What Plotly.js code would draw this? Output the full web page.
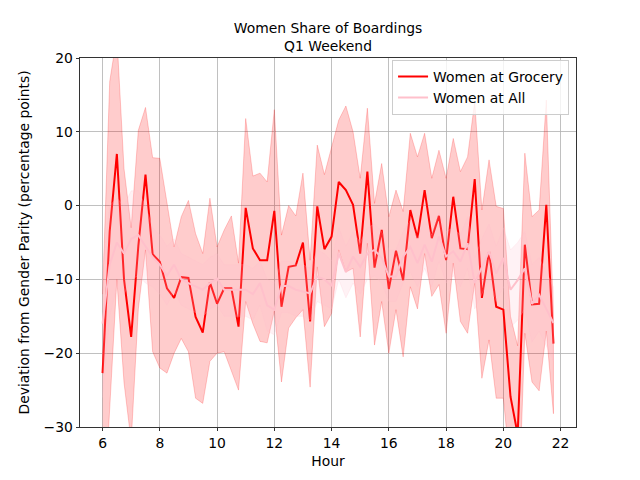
<!DOCTYPE html>
<html>
<head>
<meta charset="utf-8">
<script src="https://cdn.plot.ly/plotly-3.0.1.min.js"></script>
<style>
  body { margin: 0; background: white; }
  #chart { width: 640px; height: 480px; }
</style>
</head>
<body>
<div id="chart"></div>
<script>
// quarter-hour bins, 6:00 to 21:45
const hours = [
  6, 6.25, 6.5, 6.75, 7, 7.25, 7.5, 7.75, 8, 8.25, 8.5, 8.75,
  9, 9.25, 9.5, 9.75, 10, 10.25, 10.5, 10.75, 11, 11.25, 11.5, 11.75,
  12, 12.25, 12.5, 12.75, 13, 13.25, 13.5, 13.75, 14, 14.25, 14.5, 14.75,
  15, 15.25, 15.5, 15.75, 16, 16.25, 16.5, 16.75, 17, 17.25, 17.5, 17.75,
  18, 18.25, 18.5, 18.75, 19, 19.25, 19.5, 19.75, 20, 20.25, 20.5, 20.75,
  21, 21.25, 21.5, 21.75
];

// Women at Grocery: mean and CI band
const grocery = [
  -22.7, -3.5, 7.0, -10.0, -17.8, -5.5, 4.2, -6.6, -7.6, -11.2, -12.5, -9.7,
  -9.8, -15.1, -17.2, -10.4, -13.3, -11.2, -11.2, -16.4, -0.3, -5.8, -7.4, -7.4,
  -0.7, -13.7, -8.3, -8.1, -5.0, -15.7, -0.1, -5.9, -4.2, 3.2, 2.1, 0.1,
  -6.5, 4.6, -8.4, -3.3, -11.3, -6.1, -10.1, -0.6, -4.4, 2.1, -4.4, -1.4,
  -7.4, 1.2, -5.8, -5.9, 3.6, -12.5, -6.2, -13.7, -14.1, -25.9, -31.0, -5.3,
  -13.4, -13.3, 0.1, -18.7
];
const groceryHi = [
  -12, 16.8, 23, 5, -3, 10.2, 13.3, 6.5, 6.4, 0.1, -5.6, -1.5,
  0.7, -3.8, -6.5, 1.0, -5.6, -3.3, -1.4, -7.8, 11.8, 4.0, 4.4, 3.2,
  13.0, -4.0, 0, -1.4, 4.4, -7.4, 8.2, 4.2, 8.0, 11.6, 13.5, 10.0,
  3.7, 13.2, 0.3, 5.7, -1.5, 2.1, -0.8, 9.8, 6.6, 9.8, 3.7, 7.5,
  3.7, 9.1, 4.6, 6.6, 14.1, -0.6, 6.2, -0.1, -0.4, -15, -19, 7.1,
  -1.5, -0.6, 14.3, -15
];
const groceryLo = [
  -45, -25, -10, -24, -32, -14, -6, -19.8, -22.0, -22.7, -20.0, -18.0,
  -19.8, -26.1, -26.8, -21.1, -20.0, -19.8, -22.3, -25.0, -13, -16.0, -18.4, -18.6,
  -14.3, -23.9, -16.6, -15.2, -14.1, -24.6, -8.3, -16.4, -14.6, -6.0, -9.0, -8.5,
  -17.8, -5.1, -18.9, -13.0, -20.0, -14.1, -20.5, -11.0, -14, -6.5, -12.3, -10.7,
  -17.3, -7.8, -15.7, -17.3, -10.5, -23.4, -18.2, -26.1, -26.1, -36, -45, -17.3,
  -23.9, -25.1, -17, -28.2
];

// Women at All: mean and CI band
const allStops = [
  -16, -8, -5, -6.5, -4.5, -4, -5.5, -7, -8, -9.5, -8, -10,
  -10.5, -11, -11.4, -10.5, -9.9, -11.4, -11.4, -11.4, -11.4, -12, -10.5, -13.5,
  -14.1, -10.9, -10.9, -11.4, -11.6, -11.9, -9.6, -10, -10.9, -6.5, -9.0, -6.9,
  -8.3, -6.5, -6.0, -7.1, -9.6, -9.6, -6.9, -5.6, -7.8, -5.3, -7.6, -4.2,
  -6.9, -6.2, -7.6, -5.1, -10.5, -8.3, -6.2, -9.2, -7.1, -11.4, -10.1, -8.5,
  -13.3, -12.1, -14.1, -15.9
];
const allHi = [
  -8, 0, 1, 0, 2, 2, 0, -3, -4, -5.5, -4.5, -6.5,
  -7, -7.5, -8, -7, -6.5, -8, -8, -8, -8, -8.5, -7.5, -10,
  -10.5, -7.5, -7.5, -8, -8, -8.5, -6, -6.5, -7.5, -3, -5.5, -3.5,
  -5, -3, -2.5, -3.5, -6, -6, -3.5, -2, -4.5, -2, -4, -1,
  -3.5, -3, -4, -1.5, -7, -4.5, -2.5, -5.5, -3, -6, -5, -3.5,
  -8, -7, -9, -11
];
const allLo = [
  -26, -15, -11, -12, -10, -9.5, -10.5, -11, -12, -13.5, -11.5, -13.5,
  -14, -14.5, -15, -14, -13.5, -15, -15, -15, -15, -15.5, -13.5, -17,
  -17.5, -14.5, -14.5, -15, -15, -15.5, -13, -13.5, -14, -10, -12.5, -10.5,
  -12, -10, -9.5, -10.5, -13, -13, -10.5, -9, -11, -8.5, -11, -7.5,
  -10.5, -9.5, -11, -8.5, -14, -12, -10, -13, -11, -16.5, -15.5, -14,
  -18.5, -17, -19, -21
];

const xTicks = [6, 8, 10, 12, 14, 16, 18, 20, 22];
const yTicks = [-30, -20, -10, 0, 10, 20];

const textFont = { family: "DejaVu Sans", size: 13.9, color: "black" };

// closed polygon for a band: upper edge forward, lower edge back
function band(hi, lo, color) {
  return {
    x: hours.concat(hours.slice().reverse()),
    y: hi.concat(lo.slice().reverse()),
    type: "scatter",
    mode: "lines",
    fill: "toself",
    fillcolor: color,
    line: { color: color, width: 1 },
    hoverinfo: "skip",
    showlegend: false,
  };
}

const data = [
  band(groceryHi, groceryLo, "rgba(255,0,0,0.2)"),
  {
    x: hours,
    y: grocery,
    type: "scatter",
    mode: "lines",
    name: "Women at Grocery",
    line: { color: "#ff0000", width: 2 },
  },
  band(allHi, allLo, "rgba(255,192,203,0.2)"),
  {
    x: hours,
    y: allStops,
    type: "scatter",
    mode: "lines",
    name: "Women at All",
    line: { color: "#ffc0cb", width: 2 },
  },
];

const axisStyle = {
  showline: true,
  linecolor: "black",
  linewidth: 0.8,
  mirror: true,
  ticks: "outside",
  ticklen: 3.5,
  tickwidth: 0.8,
  tickcolor: "black",
  tickfont: textFont,
  showgrid: true,
  gridcolor: "#b0b0b0",
  gridwidth: 0.8,
  zeroline: false,
};

const layout = {
  width: 640,
  height: 480,
  margin: { l: 80, r: 64, t: 58, b: 53 },
  paper_bgcolor: "white",
  plot_bgcolor: "white",
  font: textFont,
  title: {
    text: "Women Share of Boardings<br>Q1 Weekend",
    font: textFont,
    x: 0.5,
    xref: "paper",
    y: 0.932,
    yref: "container",
    yanchor: "top",
  },
  xaxis: Object.assign({}, axisStyle, {
    range: [5.2125, 22.5375],
    tickvals: xTicks,
    title: { text: "Hour", font: textFont, standoff: 6 },
  }),
  yaxis: Object.assign({}, axisStyle, {
    range: [-30, 20],
    tickvals: yTicks,
    title: { text: "Deviation from Gender Parity (percentage points)", font: textFont, standoff: 10 },
  }),
  legend: {
    x: 0.986,
    y: 0.995,
    xanchor: "right",
    yanchor: "top",
    bgcolor: "rgba(255,255,255,0.8)",
    bordercolor: "#cccccc",
    borderwidth: 1,
    font: textFont,
  },
};

Plotly.newPlot("chart", data, layout, { staticPlot: true });
</script>
</body>
</html>
